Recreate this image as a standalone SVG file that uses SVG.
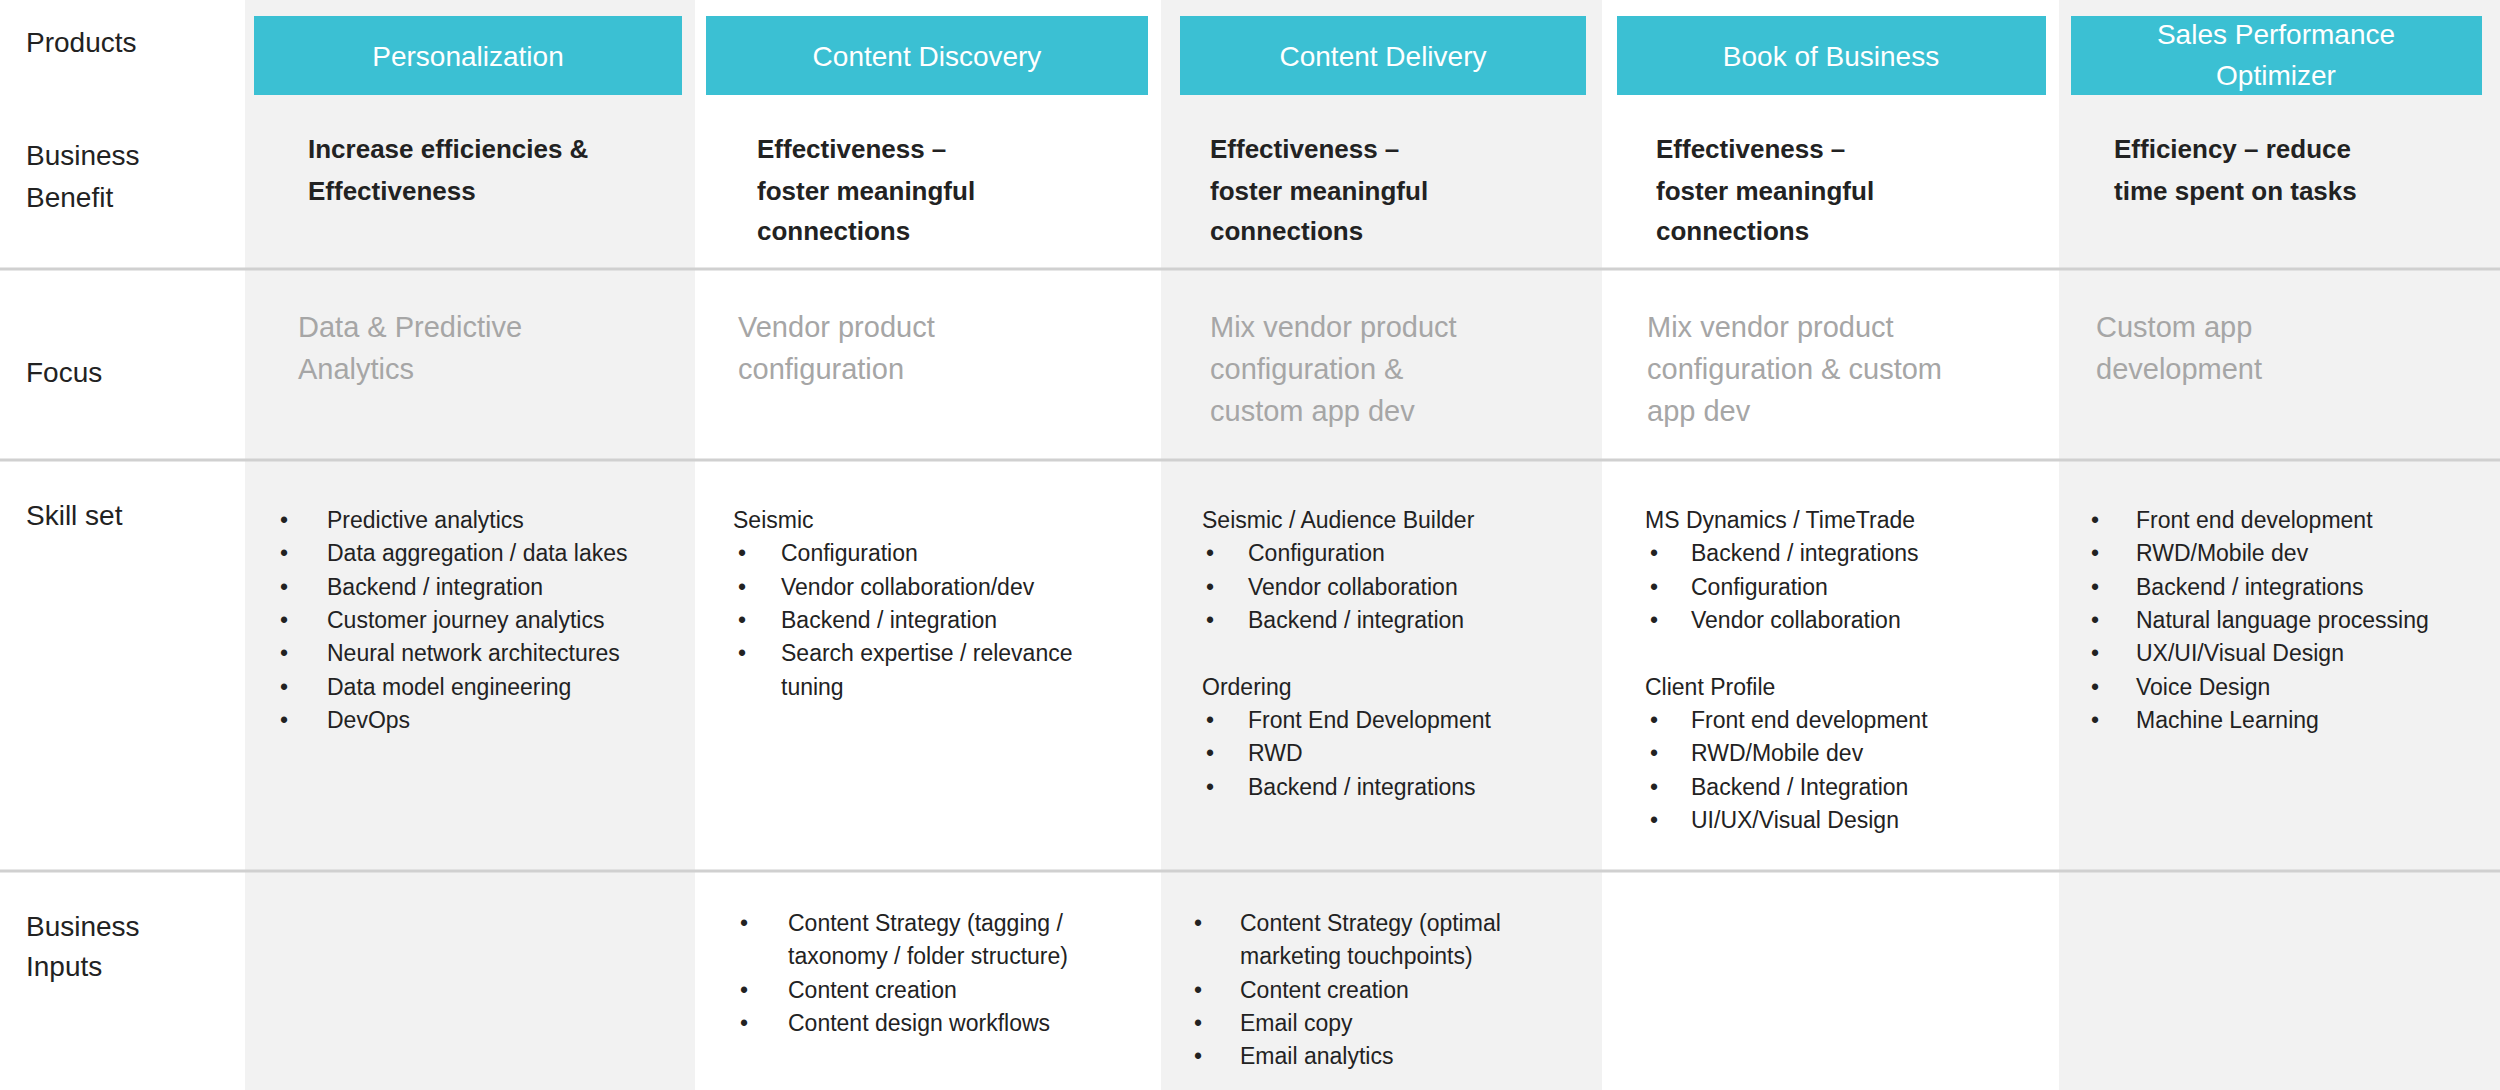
<svg xmlns="http://www.w3.org/2000/svg" width="2500" height="1090" viewBox="0 0 2500 1090">
<style>
text{font-family:"Liberation Sans",Arial,sans-serif;fill:#222}
.lab{font-size:28px}
.hd{font-size:28px;fill:#fff;text-anchor:middle}
.bb{font-size:26px;font-weight:bold}
.fo{font-size:29px;fill:#a6a6a6}
.sk{font-size:23px}
.bg{fill:#f2f2f2}
.hb{fill:#3bc0d3}
.ln{stroke:#d0d0d0;stroke-width:3}
</style>
<rect width="2500" height="1090" fill="#fff"/>
<g id="columns">
<rect class="bg" x="245" y="0" width="450" height="1090"/>
<rect class="bg" x="1161" y="0" width="441" height="1090"/>
<rect class="bg" x="2059" y="0" width="441" height="1090"/>
</g>
<g id="lines">
<line class="ln" x1="0" y1="269" x2="2500" y2="269"/>
<line class="ln" x1="0" y1="460" x2="2500" y2="460"/>
<line class="ln" x1="0" y1="871" x2="2500" y2="871"/>
</g>
<g id="row-labels">
<text class="lab" x="26" y="52">Products</text>
<text class="lab" x="26" y="165">Business</text>
<text class="lab" x="26" y="207">Benefit</text>
<text class="lab" x="26" y="382">Focus</text>
<text class="lab" x="26" y="525">Skill set</text>
<text class="lab" x="26" y="936">Business</text>
<text class="lab" x="26" y="976">Inputs</text>
</g>
<g id="col-personalization">
<rect class="hb" x="254" y="16" width="428" height="79"/>
<text class="hd" x="468" y="66">Personalization</text>
<text class="bb" x="308" y="158">Increase efficiencies &amp;</text>
<text class="bb" x="308" y="200">Effectiveness</text>
<text class="fo" x="298" y="337">Data &amp; Predictive</text>
<text class="fo" x="298" y="379">Analytics</text>
<g class="sk">
<text class="sk" x="280" y="528">•</text><text class="sk" x="327" y="528">Predictive analytics</text>
<text class="sk" x="280" y="561">•</text><text class="sk" x="327" y="561">Data aggregation / data lakes</text>
<text class="sk" x="280" y="595">•</text><text class="sk" x="327" y="595">Backend / integration</text>
<text class="sk" x="280" y="628">•</text><text class="sk" x="327" y="628">Customer journey analytics</text>
<text class="sk" x="280" y="661">•</text><text class="sk" x="327" y="661">Neural network architectures</text>
<text class="sk" x="280" y="695">•</text><text class="sk" x="327" y="695">Data model engineering</text>
<text class="sk" x="280" y="728">•</text><text class="sk" x="327" y="728">DevOps</text>
</g>
</g>
<g id="col-content-discovery">
<rect class="hb" x="706" y="16" width="442" height="79"/>
<text class="hd" x="927" y="66">Content Discovery</text>
<text class="bb" x="757" y="158">Effectiveness –</text>
<text class="bb" x="757" y="200">foster meaningful</text>
<text class="bb" x="757" y="240">connections</text>
<text class="fo" x="738" y="337">Vendor product</text>
<text class="fo" x="738" y="379">configuration</text>
<text class="sk" x="733" y="528">Seismic</text>
<text class="sk" x="738" y="561">•</text><text class="sk" x="781" y="561">Configuration</text>
<text class="sk" x="738" y="595">•</text><text class="sk" x="781" y="595">Vendor collaboration/dev</text>
<text class="sk" x="738" y="628">•</text><text class="sk" x="781" y="628">Backend / integration</text>
<text class="sk" x="738" y="661">•</text><text class="sk" x="781" y="661">Search expertise / relevance</text>
<text class="sk" x="781" y="695">tuning</text>
<text class="sk" x="740" y="931">•</text><text class="sk" x="788" y="931">Content Strategy (tagging /</text>
<text class="sk" x="788" y="964">taxonomy / folder structure)</text>
<text class="sk" x="740" y="998">•</text><text class="sk" x="788" y="998">Content creation</text>
<text class="sk" x="740" y="1031">•</text><text class="sk" x="788" y="1031">Content design workflows</text>
</g>
<g id="col-content-delivery">
<rect class="hb" x="1180" y="16" width="406" height="79"/>
<text class="hd" x="1383" y="66">Content Delivery</text>
<text class="bb" x="1210" y="158">Effectiveness –</text>
<text class="bb" x="1210" y="200">foster meaningful</text>
<text class="bb" x="1210" y="240">connections</text>
<text class="fo" x="1210" y="337">Mix vendor product</text>
<text class="fo" x="1210" y="379">configuration &amp;</text>
<text class="fo" x="1210" y="421">custom app dev</text>
<text class="sk" x="1202" y="528">Seismic / Audience Builder</text>
<text class="sk" x="1206" y="561">•</text><text class="sk" x="1248" y="561">Configuration</text>
<text class="sk" x="1206" y="595">•</text><text class="sk" x="1248" y="595">Vendor collaboration</text>
<text class="sk" x="1206" y="628">•</text><text class="sk" x="1248" y="628">Backend / integration</text>
<text class="sk" x="1202" y="695">Ordering</text>
<text class="sk" x="1206" y="728">•</text><text class="sk" x="1248" y="728">Front End Development</text>
<text class="sk" x="1206" y="761">•</text><text class="sk" x="1248" y="761">RWD</text>
<text class="sk" x="1206" y="795">•</text><text class="sk" x="1248" y="795">Backend / integrations</text>
<text class="sk" x="1194" y="931">•</text><text class="sk" x="1240" y="931">Content Strategy (optimal</text>
<text class="sk" x="1240" y="964">marketing touchpoints)</text>
<text class="sk" x="1194" y="998">•</text><text class="sk" x="1240" y="998">Content creation</text>
<text class="sk" x="1194" y="1031">•</text><text class="sk" x="1240" y="1031">Email copy</text>
<text class="sk" x="1194" y="1064">•</text><text class="sk" x="1240" y="1064">Email analytics</text>
</g>
<g id="col-book-of-business">
<rect class="hb" x="1617" y="16" width="429" height="79"/>
<text class="hd" x="1831" y="66">Book of Business</text>
<text class="bb" x="1656" y="158">Effectiveness –</text>
<text class="bb" x="1656" y="200">foster meaningful</text>
<text class="bb" x="1656" y="240">connections</text>
<text class="fo" x="1647" y="337">Mix vendor product</text>
<text class="fo" x="1647" y="379">configuration &amp; custom</text>
<text class="fo" x="1647" y="421">app dev</text>
<text class="sk" x="1645" y="528">MS Dynamics / TimeTrade</text>
<text class="sk" x="1650" y="561">•</text><text class="sk" x="1691" y="561">Backend / integrations</text>
<text class="sk" x="1650" y="595">•</text><text class="sk" x="1691" y="595">Configuration</text>
<text class="sk" x="1650" y="628">•</text><text class="sk" x="1691" y="628">Vendor collaboration</text>
<text class="sk" x="1645" y="695">Client Profile</text>
<text class="sk" x="1650" y="728">•</text><text class="sk" x="1691" y="728">Front end development</text>
<text class="sk" x="1650" y="761">•</text><text class="sk" x="1691" y="761">RWD/Mobile dev</text>
<text class="sk" x="1650" y="795">•</text><text class="sk" x="1691" y="795">Backend / Integration</text>
<text class="sk" x="1650" y="828">•</text><text class="sk" x="1691" y="828">UI/UX/Visual Design</text>
</g>
<g id="col-sales-performance">
<rect class="hb" x="2071" y="16" width="411" height="79"/>
<text class="hd" x="2276" y="44">Sales Performance</text>
<text class="hd" x="2276" y="85">Optimizer</text>
<text class="bb" x="2114" y="158">Efficiency – reduce</text>
<text class="bb" x="2114" y="200">time spent on tasks</text>
<text class="fo" x="2096" y="337">Custom app</text>
<text class="fo" x="2096" y="379">development</text>
<text class="sk" x="2091" y="528">•</text><text class="sk" x="2136" y="528">Front end development</text>
<text class="sk" x="2091" y="561">•</text><text class="sk" x="2136" y="561">RWD/Mobile dev</text>
<text class="sk" x="2091" y="595">•</text><text class="sk" x="2136" y="595">Backend / integrations</text>
<text class="sk" x="2091" y="628">•</text><text class="sk" x="2136" y="628">Natural language processing</text>
<text class="sk" x="2091" y="661">•</text><text class="sk" x="2136" y="661">UX/UI/Visual Design</text>
<text class="sk" x="2091" y="695">•</text><text class="sk" x="2136" y="695">Voice Design</text>
<text class="sk" x="2091" y="728">•</text><text class="sk" x="2136" y="728">Machine Learning</text>
</g>
</svg>
